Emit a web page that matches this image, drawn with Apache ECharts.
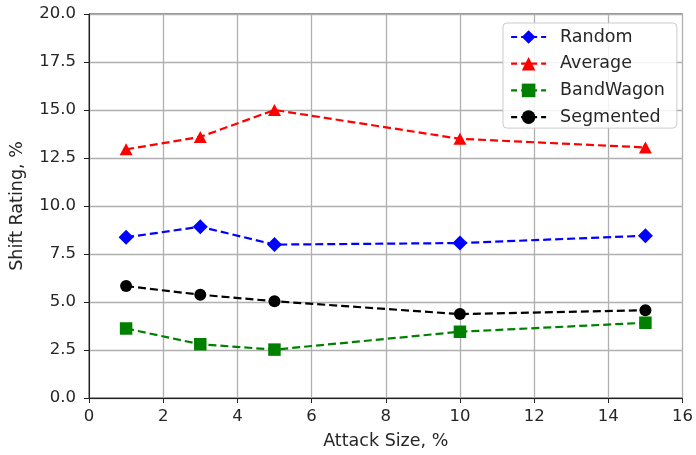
<!DOCTYPE html>
<html>
<head>
<meta charset="utf-8">
<script src="https://cdn.jsdelivr.net/npm/echarts@6/dist/echarts.min.js"></script>
<style>
html,body{margin:0;padding:0;background:#fff;}
#chart{width:696px;height:455px;}
</style>
</head>
<body>
<div id="chart"></div>
<script>
var attackSize = [1, 3, 5, 10, 15];
var randomVals = [8.37, 8.92, 7.99, 8.07, 8.45];
var averageVals = [12.95, 13.6, 15.0, 13.5, 13.05];
var bandwagonVals = [3.62, 2.8, 2.52, 3.45, 3.92];
var segmentedVals = [5.83, 5.38, 5.04, 4.37, 4.57];
var seriesNames = ['Random', 'Average', 'BandWagon', 'Segmented'];

function pairs(vals) {
  return attackSize.map(function (x, i) { return [x, vals[i]]; });
}

var FONT = 'DejaVu Sans';
var dash = [8, 4];

function mk(name, vals, color, symbol, size) {
  return {
    name: name,
    type: 'line',
    data: pairs(vals),
    symbol: symbol,
    symbolSize: size,
    showAllSymbol: true,
    itemStyle: { color: color },
    lineStyle: { color: color, width: 2.2, type: dash },
    z: 3
  };
}

var chart = echarts.init(document.getElementById('chart'), null, { renderer: 'canvas' });
chart.setOption({
  animation: false,
  backgroundColor: '#fff',
  textStyle: { fontFamily: FONT },
  grid: {
    left: 88, top: 14, width: 597, height: 387,
    show: true, borderColor: '#222', borderWidth: 1, backgroundColor: 'transparent',
    containLabel: false
  },
  legend: {
    data: seriesNames,
    orient: 'vertical',
    left: 503, top: 23,
    padding: [5, 12, 2, 7],
    itemWidth: 35, itemHeight: 17, itemGap: 8.7,
    backgroundColor: 'rgba(255,255,255,0.85)',
    borderColor: '#cccccc', borderWidth: 1, borderRadius: 4,
    lineStyle: { width: 2.2, type: [6, 4] },
    textStyle: { fontFamily: FONT, fontSize: 17.5, color: '#262626', lineHeight: 18, padding: [0, 0, 0, 9] }
  },
  xAxis: {
    type: 'value', min: 0, max: 16, interval: 2,
    name: 'Attack Size, %', nameLocation: 'middle', nameGap: 34,
    nameTextStyle: { fontFamily: FONT, fontSize: 17.5, color: '#262626' },
    axisLine: { show: true, onZero: false, lineStyle: { color: '#222', width: 1 } },
    axisTick: { show: true, length: 5, lineStyle: { color: '#222' } },
    axisLabel: { fontFamily: FONT, fontSize: 16.5, color: '#262626', margin: 10 },
    splitLine: { show: true, lineStyle: { color: '#b0b0b0', width: 1.3 } }
  },
  yAxis: {
    type: 'value', min: 0, max: 20, interval: 2.5,
    name: 'Shift Rating, %', nameLocation: 'middle', nameGap: 63,
    nameTextStyle: { fontFamily: FONT, fontSize: 17.5, color: '#262626' },
    axisLine: { show: true, onZero: false, lineStyle: { color: '#222', width: 1 } },
    axisTick: { show: true, length: 5, lineStyle: { color: '#222' } },
    axisLabel: { fontFamily: FONT, fontSize: 16.5, color: '#262626', margin: 13,
      formatter: function (v) { return v.toFixed(1); } },
    splitLine: { show: true, lineStyle: { color: '#b0b0b0', width: 1.3 } }
  },
  series: [
    mk('Random', randomVals, '#0000ff', 'diamond', 15),
    mk('Average', averageVals, '#ff0000', 'triangle', [13, 12]),
    mk('BandWagon', bandwagonVals, '#008000', 'rect', 12.5),
    mk('Segmented', segmentedVals, '#000000', 'circle', 12)
  ]
});
</script>
</body>
</html>
